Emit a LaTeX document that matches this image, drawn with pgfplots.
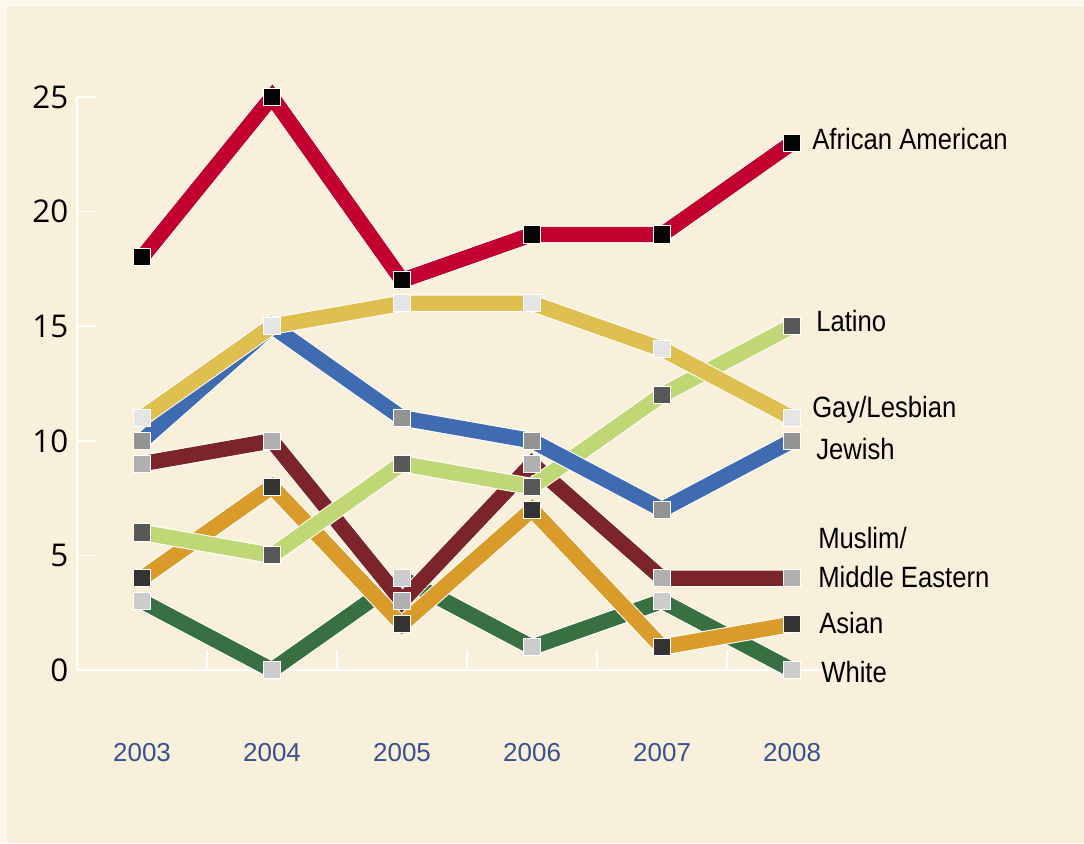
\documentclass[border=0pt]{standalone}
\usepackage{pgfplots}
\pgfplotsset{compat=1.18}
\usepackage{fontspec}
\setmainfont{Liberation Sans}
\newfontfamily\narrowfont[FakeStretch=0.875]{Liberation Sans}
\newfontfamily\tickfont{Open Sans}
\definecolor{bg}{HTML}{F8F0DA}
\definecolor{bgedge}{HTML}{FCF8EE}
\definecolor{yearblue}{HTML}{3A5090}
\definecolor{cAA}{HTML}{C1002F}
\definecolor{cGay}{HTML}{DFBF50}
\definecolor{cJew}{HTML}{3F6BB0}
\definecolor{cLat}{HTML}{BFD774}
\definecolor{cMus}{HTML}{7B252A}
\definecolor{cAsi}{HTML}{D99B2A}
\definecolor{cWhi}{HTML}{387042}
\definecolor{mAA}{HTML}{050505}
\definecolor{mGay}{HTML}{E5E5E5}
\definecolor{mJew}{HTML}{939393}
\definecolor{mLat}{HTML}{585858}
\definecolor{mMus}{HTML}{B0B0B0}
\definecolor{mAsi}{HTML}{333333}
\definecolor{mWhi}{HTML}{CCCCCC}
\pgfplotsset{ser/.style 2 args={draw=white, line width=0.75pt, double=#1, double distance=11.5pt, line join=miter, mark=square*, mark size=6.4pt, mark options={draw=white, fill=#2, line width=0.75pt, solid}}}
\newcommand\lab[3]{\node[anchor=base west, font=\narrowfont\fontsize{22}{29}\selectfont, inner sep=0pt, text=black] at ({#1*0.75pt},{(843-#2)*0.75pt}) {#3};}
\begin{document}
\begin{tikzpicture}
\fill[bgedge] (0,0) rectangle (813pt,632.25pt);
\fill[bg] (5.25pt,0) rectangle (813pt,627pt);
\begin{axis}[
  at={(57.75pt,129.75pt)}, anchor=south west,
  scale only axis, width=558.75pt, height=429.75pt,
  xmin=-0.5, xmax=5.23, ymin=0, ymax=25,
  axis x line*=bottom, axis y line*=left,
  axis line style={draw=white, line width=1.2pt, -},
  clip=false,
  tick align=inside, major tick length=15pt,
  tick style={draw=white, line width=1.2pt},
  ytick={0,5,10,15,20,25},
  xtick={0.5,1.5,2.5,3.5,4.5}, xticklabels={},
  extra x ticks={0,1,2,3,4,5},
  extra x tick labels={2003,2004,2005,2006,2007,2008},
  extra x tick style={major tick length=0pt, tick style={draw=none}},
  xticklabel style={font=\fontsize{19.5}{21}\selectfont, text=yearblue, anchor=center, yshift=-62pt},
  yticklabel style={font=\tickfont\fontsize{23.5}{25}\selectfont, text=black, xshift=-3pt},
  /pgf/number format/assume math mode=true,
]
\addplot[ser={cWhi}{mWhi}] coordinates {(0,3)(1,0)(2,4)(3,1)(4,3)(5,0)};
\addplot[ser={cAsi}{mAsi}] coordinates {(0,4)(1,8)(2,2)(3,7)(4,1)(5,2)};
\addplot[ser={cMus}{mMus}] coordinates {(0,9)(1,10)(2,3)(3,9)(4,4)(5,4)};
\addplot[ser={cLat}{mLat}] coordinates {(0,6)(1,5)(2,9)(3,8)(4,12)(5,15)};
\addplot[ser={cJew}{mJew}] coordinates {(0,10)(1,15)(2,11)(3,10)(4,7)(5,10)};
\addplot[ser={cGay}{mGay}] coordinates {(0,11)(1,15)(2,16)(3,16)(4,14)(5,11)};
\addplot[ser={cAA}{mAA}] coordinates {(0,18)(1,25)(2,17)(3,19)(4,19)(5,23)};
\end{axis}
\lab{812}{149.5}{African American}
\lab{816}{332}{Latino}
\lab{812}{418}{Gay/Lesbian}
\lab{816}{460}{Jewish}
\lab{818}{548}{Muslim/}
\lab{818}{587}{Middle Eastern}
\lab{819}{633}{Asian}
\lab{821}{682}{White}
\end{tikzpicture}
\end{document}
